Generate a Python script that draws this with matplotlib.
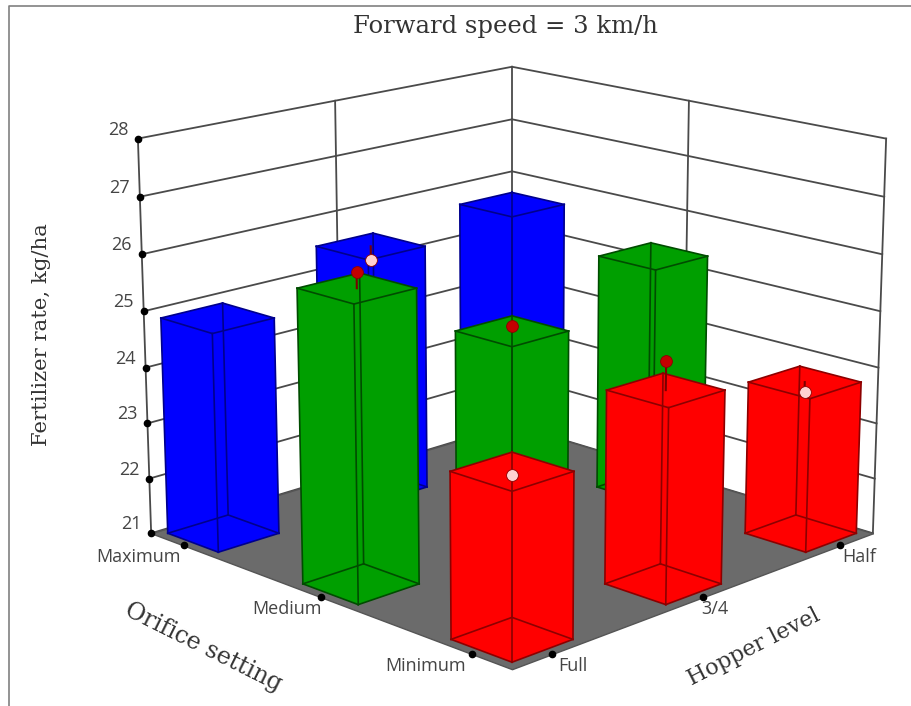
"""3D bars of fertilizer rate by hopper level and orifice setting."""

from matplotlib import pyplot as plt
from matplotlib.lines import Line2D
from mpl_toolkits.mplot3d import proj3d
from mpl_toolkits.mplot3d.art3d import Poly3DCollection

hopper_labels = ['Full', '3/4', 'Half']
orifice_labels = ['Minimum', 'Medium', 'Maximum']
z_ticks = [21, 22, 23, 24, 25, 26, 27, 28]

# Rows follow orifice_labels, columns follow hopper_labels.
predicted = [
    [23.8, 24.36, 23.74],
    [26.08, 24.65, 25.32],
    [24.88, 25.5, 25.66],
]
# Design points (dots), only where they show in the picture.
points = [
    (0, 0, 23.74, 'pink'),
    (1, 0, 24.85, 'red'),
    (2, 0, 23.57, 'pink'),
    (0, 1, 26.35, 'red'),
    (1, 1, 24.74, 'red'),
    (1, 2, 25.25, 'pink'),
]
bar_colors = ['#ff0000', '#009f00', '#0000ff']
edge_colors = ['#8c0000', '#004c00', '#00008c']

LO, HI = -0.25, 2.25
W = 0.385

fig = plt.figure(figsize=(9.12, 7.06), dpi=100)
ax = fig.add_axes([-1.5 / 912, -147 / 706, 1000 / 912, 1000 / 706], projection='3d',
                  computed_zorder=False)
ax.patch.set_visible(False)
ax.set_axis_off()
ax.set_proj_type('persp', focal_length=0.58)
ax.view_init(elev=16, azim=-135)
ax.set_box_aspect((1, 1, 0.79), zoom=0.817)
ax.set_xlim(LO, HI)
ax.set_ylim(LO, HI)
ax.set_zlim(21, 28)

grid = '#4a4a4a'

# Back walls
for z in z_ticks:
    ax.plot([LO, HI], [HI, HI], [z, z], color=grid, lw=1.3, zorder=1)
    ax.plot([HI, HI], [HI, LO], [z, z], color=grid, lw=1.3, zorder=1)
for x, y in [(LO, HI), (1, HI), (HI, HI), (HI, 1), (HI, LO)]:
    ax.plot([x, x], [y, y], [21, 28], color=grid, lw=1.3, zorder=1)

# Floor
floor = Poly3DCollection([[(LO, LO, 21), (HI, LO, 21), (HI, HI, 21), (LO, HI, 21)]],
                         facecolor='#6b6b6b', edgecolor='#555555', zorder=2)
ax.add_collection3d(floor)

# Bars, back to front
cells = sorted(((i, j) for j in range(3) for i in range(3)), key=lambda c: -(c[0] + c[1]))
order = 3
for i, j in cells:
    top = predicted[j][i]
    x0, x1 = i - W / 2, i + W / 2
    y0, y1 = j - W / 2, j + W / 2
    ax.bar3d(x0, y0, 21, W, W, top - 21, color=bar_colors[j], shade=False, zorder=order)
    order += 1
    edges = [
        ([x0, x1], [y0, y0]), ([x1, x1], [y0, y1]),
        ([x1, x0], [y1, y1]), ([x0, x0], [y1, y0]),
    ]
    for xs, ys in edges:
        for z in (21, top):
            ax.plot(xs, ys, [z, z], color=edge_colors[j], lw=1.2, zorder=order)
    for x, y in [(x0, y0), (x1, y0), (x1, y1), (x0, y1)]:
        ax.plot([x, x], [y, y], [21, top], color=edge_colors[j], lw=1.2, zorder=order)
    order += 1
    for pi, pj, value, kind in points:
        if (pi, pj) == (i, j):
            ax.plot([i, i], [j, j], [top, value], color='#7a0000', lw=1.5, zorder=order)
            face = '#ffd0d0' if kind == 'pink' else '#c40000'
            ax.plot([i], [j], [value], 'o', ms=8.5, mfc=face, mec='#8c0000', mew=0.6, zorder=order + 1)
    order += 2

# Tick dots and labels
M = ax.get_proj()


def tick(x, y, z, label, dx, dy, size=13):
    ax.plot([x], [y], [z], 'o', ms=4.5, color='black', zorder=order)
    px, py, _ = proj3d.proj_transform(x, y, z, M)
    ax.annotate(label, (px, py), xytext=(dx, dy), textcoords='offset pixels', ha='center',
                va='center', fontsize=size, family='Open Sans', color='#444444', annotation_clip=False)


for z in z_ticks:
    tick(LO, HI, z, str(z), -20, 9)
orifice_dx = [-46, -34, -45]
hopper_dx = [21, 12, 19]
for j, label in enumerate(orifice_labels):
    tick(LO, j, 21, label, orifice_dx[j], -12)
for i, label in enumerate(hopper_labels):
    tick(i, LO, 21, label, hopper_dx[i], -12)

# Titles
serif = 'DejaVu Serif'
fig.text(505 / 912, 1 - 27 / 706, 'Forward speed = 3 km/h', ha='center', va='center',
         family=serif, fontsize=17.5, color='#333333')
fig.text(42 / 912, 1 - 335 / 706, 'Fertilizer rate, kg/ha', ha='center', va='center',
         rotation=90, family=serif, fontsize=15.3, color='#333333')
fig.text(203 / 912, 1 - 647 / 706, 'Orifice setting', ha='center', va='center', rotation=-26.5,
         rotation_mode='anchor', family=serif, fontsize=17, color='#333333')
fig.text(754 / 912, 1 - 647 / 706, 'Hopper level', ha='center', va='center', rotation=27,
         rotation_mode='anchor', family=serif, fontsize=16, color='#333333')

# Outer frame of the picture
fig.add_artist(Line2D([9 / 912, 9 / 912, 1], [0, 1 - 6 / 706, 1 - 6 / 706], color='#808080', lw=1.2))

fig.savefig('out.png', dpi=100)
